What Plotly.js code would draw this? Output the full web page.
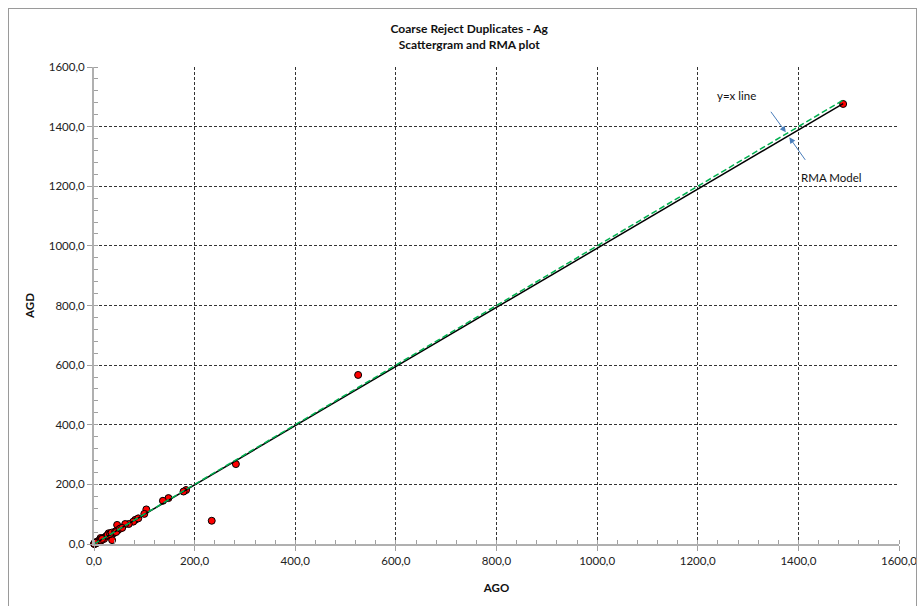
<!DOCTYPE html>
<html>
<head>
<meta charset="utf-8">
<script src="https://cdn.plot.ly/plotly-3.0.1.min.js"></script>
<style>
  html, body { margin: 0; padding: 0; background: #fff; }
  #wrap { position: relative; width: 920px; height: 606px; }
  #frame { position: absolute; left: 8px; top: 8px; width: 909px; height: 600px; border: 1px solid #9a9a9a; box-sizing: border-box; pointer-events: none; }
  #chart { position: absolute; left: 0; top: 0; width: 920px; height: 606px; }
</style>
</head>
<body>
<div id="wrap">
  <div id="chart"></div>
  <div id="frame"></div>
</div>
<script>
// Duplicate pairs (original AGO, duplicate AGD)
const ago = [1489, 525, 282, 234, 183, 178, 148, 137, 104, 100, 82, 78, 69, 62, 46, 48, 36, 39, 29, 23, 13,
             2, 4, 6, 8, 10, 12, 15, 18, 20, 25, 27, 32, 35, 42, 44, 52, 56, 88, 3, 5, 1,
             0.5, 1, 1.5, 2, 3, 0.8, 4, 6, 7, 9, 11, 14, 16, 0.3, 2.5];
const agd = [1476, 567, 268, 78, 181, 176, 154, 145, 116, 101, 81, 75, 67, 67, 64, 47, 13, 36, 36, 24, 20,
             3, 5, 4, 9, 8, 14, 13, 20, 17, 27, 30, 33, 38, 42, 40, 52, 54, 86, 1, 7, 2,
             0.5, 1.5, 1, 2, 3, 0.3, 3, 7, 6, 10, 10, 12, 17, 1, 4];

// RMA model line and y=x reference line
const rmaX = [0, 1489];
const rmaY = [0, 1477];
const yxX = [0, 1489];
const yxY = [0, 1489];

// Axis ticks
const tickVals = [0, 200, 400, 600, 800, 1000, 1200, 1400, 1600];
const tickText = ["0,0", "200,0", "400,0", "600,0", "800,0", "1000,0", "1200,0", "1400,0", "1600,0"];

const FONT = "Lato, 'Open Sans', sans-serif";

const traces = [
  {
    x: ago, y: agd, type: "scatter", mode: "markers", cliponaxis: false,
    marker: { color: "#ff0000", size: 7, line: { color: "#000000", width: 1 } },
    hoverinfo: "x+y"
  },
  {
    x: rmaX, y: rmaY, type: "scatter", mode: "lines", cliponaxis: false,
    line: { color: "#000000", width: 1.5 }
  },
  {
    x: yxX, y: yxY, type: "scatter", mode: "lines", cliponaxis: false,
    line: { color: "#00b050", width: 1.5, dash: "6px,3px" }
  }
];

function axisCommon() {
  return {
    range: [0, 1600],
    tickmode: "array",
    tickvals: tickVals,
    ticktext: tickText,
    ticks: "outside",
    ticklen: 5,
    tickcolor: "#a0a0a0",
    tickwidth: 1,
    showline: true,
    linecolor: "#b0b0b0",
    linewidth: 2,
    showgrid: true,
    gridcolor: "#333333",
    gridwidth: 1,
    griddash: "3px,2px",
    zeroline: false,
    tickfont: { family: FONT, size: 11.5, color: "#222" },
    minor: { dtick: 40, ticks: "inside", ticklen: 4, tickcolor: "#a0a0a0", showgrid: false },
    fixedrange: true
  };
}

const xaxis = Object.assign(axisCommon(), {
  title: { text: "AGO", font: { family: FONT, size: 11.5, color: "#111", weight: "bold" }, standoff: 18 }
});
const yaxis = Object.assign(axisCommon(), {
  title: { text: "AGD", font: { family: FONT, size: 11.5, color: "#111", weight: "bold" }, standoff: 12 }
});

const layout = {
  width: 920, height: 606,
  margin: { l: 94, r: 21, t: 67, b: 62 },
  paper_bgcolor: "#ffffff",
  plot_bgcolor: "#ffffff",
  showlegend: false,
  title: {
    text: "<b>Coarse Reject Duplicates - Ag</b><br><b>Scattergram and RMA plot</b>",
    font: { family: FONT, size: 12, color: "#111" },
    x: 0.51, xref: "container", xanchor: "center",
    y: 0.945, yref: "container", yanchor: "top"
  },
  xaxis: xaxis,
  yaxis: yaxis,
  annotations: [
    { x: 1278, y: 1506, xref: "x", yref: "y", text: "y=x line", showarrow: false,
      font: { family: FONT, size: 11.5, color: "#111" } },
    { x: 1465, y: 1231, xref: "x", yref: "y", text: "RMA Model", showarrow: false,
      font: { family: FONT, size: 11.5, color: "#111" } },
    { x: 1375, y: 1381, xref: "x", yref: "y", text: "", showarrow: true,
      ax: -16, ay: -22, arrowhead: 2, arrowsize: 1.2, arrowwidth: 1, arrowcolor: "#4a7ebb" },
    { x: 1382, y: 1364, xref: "x", yref: "y", text: "", showarrow: true,
      ax: 17, ay: 24, arrowhead: 2, arrowsize: 1.2, arrowwidth: 1, arrowcolor: "#4a7ebb" }
  ]
};

Plotly.newPlot("chart", traces, layout, { displayModeBar: false, staticPlot: true });
</script>
</body>
</html>
